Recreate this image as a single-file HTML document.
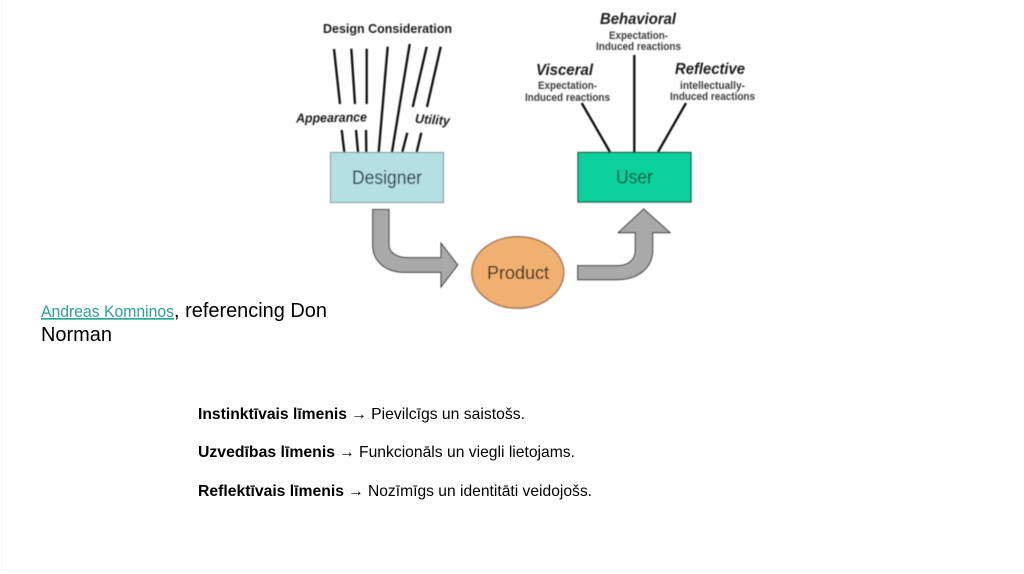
<!DOCTYPE html>
<html lang="lv">
<head>
<meta charset="utf-8">
<title>Designer, Product, User</title>
<style>
html,body{margin:0;padding:0;background:#fff;width:1024px;height:574px;overflow:hidden}
svg{display:block;font-family:"Liberation Sans",sans-serif}
.b{filter:url(#soft)}
.l line{stroke:#111;stroke-width:2.3;stroke-linecap:butt}
.h{font-weight:bold;fill:#1f1f1f}
.i{font-weight:bold;font-style:italic;fill:#1c1c1c}
.s{font-weight:bold;fill:#3c3c3c;font-size:11px}
.t{fill:#000}
</style>
</head>
<body>
<svg width="1024" height="574" viewBox="0 0 1024 574" xmlns="http://www.w3.org/2000/svg">
<defs><filter id="soft" x="-5%" y="-5%" width="110%" height="110%"><feGaussianBlur stdDeviation="0.4"/></filter></defs>
<rect x="0" y="0" width="1024" height="574" fill="#fff"/>
<path d="M1.5 0V570.5H1024" fill="none" stroke="#f6f6f6" stroke-width="1"/>
<g class="b">
<g class="l">
<line x1="334" y1="49" x2="340" y2="104"/>
<line x1="351.3" y1="48.7" x2="355" y2="104"/>
<line x1="366.7" y1="48.7" x2="366.7" y2="104"/>
<line x1="387.7" y1="46.7" x2="378.7" y2="152"/>
<line x1="409.7" y1="44" x2="392" y2="152"/>
<line x1="426.7" y1="46.7" x2="412.7" y2="107"/>
<line x1="440.7" y1="46.7" x2="427" y2="107"/>
<line x1="341.7" y1="130" x2="344.3" y2="152"/>
<line x1="356" y1="130" x2="358" y2="152"/>
<line x1="366" y1="130" x2="366.3" y2="152"/>
<line x1="407.3" y1="132.7" x2="402.3" y2="152"/>
<line x1="421.3" y1="132.7" x2="416.7" y2="152"/>
<line x1="581.7" y1="103" x2="610" y2="152"/>
<line x1="634.3" y1="55" x2="634.3" y2="152"/>
<line x1="686" y1="103" x2="658" y2="152"/>
</g>
<rect x="330.5" y="152.5" width="113" height="50" fill="#b4dfe3" stroke="#7d9a9c" stroke-width="1"/>
<rect x="578" y="152.5" width="113" height="49.5" fill="#0fd19c" stroke="#1f5f4b" stroke-width="1.3"/>
<path d="M372.7 209.5H389V245C389 252 396 257.7 407 257.7H441V243.3L457.7 265L441 287V272.3H405C386 272.3 372.7 262 372.7 245Z" fill="#a9a9a9" stroke="#444" stroke-width="1.1"/>
<path d="M577.7 265.7H618C628 265.7 635.3 260 635.3 250V232.7H618.3L643.7 209L670 232.7H652.7V250C652.7 268 638 279.7 617 279.7H577.7Z" fill="#a9a9a9" stroke="#444" stroke-width="1.1"/>
<ellipse cx="517.8" cy="272.5" rx="46" ry="35.8" fill="#f0b06f" stroke="#a0705a" stroke-width="1.3"/>
<text x="323" y="33" class="h" font-size="13" textLength="129" lengthAdjust="spacingAndGlyphs">Design Consideration</text>
<text x="296" y="122" class="i" font-size="13" textLength="71" lengthAdjust="spacingAndGlyphs" transform="rotate(-1 331 118)">Appearance</text>
<text x="415" y="124" class="i" font-size="13" textLength="35" lengthAdjust="spacingAndGlyphs" transform="rotate(4 432 120)">Utility</text>
<text x="352" y="184" font-size="19" fill="#14303c" textLength="70" lengthAdjust="spacingAndGlyphs">Designer</text>
<text x="616" y="183.5" font-size="19" fill="#10583f" textLength="37" lengthAdjust="spacingAndGlyphs">User</text>
<text x="487" y="279" font-size="18" fill="#2e2018" textLength="62" lengthAdjust="spacingAndGlyphs">Product</text>
<text x="600" y="24" class="i" font-size="15.5" textLength="76" lengthAdjust="spacingAndGlyphs">Behavioral</text>
<text x="609" y="39" class="s" textLength="59" lengthAdjust="spacingAndGlyphs">Expectation-</text>
<text x="596" y="50" class="s" textLength="85" lengthAdjust="spacingAndGlyphs">Induced reactions</text>
<text x="536" y="75" class="i" font-size="15.5" textLength="57" lengthAdjust="spacingAndGlyphs">Visceral</text>
<text x="538" y="89" class="s" textLength="59" lengthAdjust="spacingAndGlyphs">Expectation-</text>
<text x="525" y="101" class="s" textLength="85" lengthAdjust="spacingAndGlyphs">Induced reactions</text>
<text x="675" y="74" class="i" font-size="15.5" textLength="70" lengthAdjust="spacingAndGlyphs">Reflective</text>
<text x="680" y="89" class="s" textLength="65" lengthAdjust="spacingAndGlyphs">intellectually-</text>
<text x="670" y="100" class="s" textLength="85" lengthAdjust="spacingAndGlyphs">Induced reactions</text>
</g>
<text x="41" y="317" font-size="16.5" fill="#2ba198" text-decoration="underline" textLength="133" lengthAdjust="spacingAndGlyphs">Andreas Komninos</text>
<text x="174" y="317" font-size="20" class="t" textLength="153" lengthAdjust="spacingAndGlyphs">, referencing Don</text>
<text x="41" y="341" font-size="20" class="t" textLength="71" lengthAdjust="spacingAndGlyphs">Norman</text>
<text x="198" y="419" font-size="16" font-weight="bold" class="t" textLength="149" lengthAdjust="spacingAndGlyphs">Instinktīvais līmenis</text>
<text x="351" y="419" font-size="16" class="t" textLength="174" lengthAdjust="spacingAndGlyphs">→ Pievilcīgs un saistošs.</text>
<text x="198" y="457" font-size="16" font-weight="bold" class="t" textLength="137" lengthAdjust="spacingAndGlyphs">Uzvedības līmenis</text>
<text x="339" y="457" font-size="16" class="t" textLength="236" lengthAdjust="spacingAndGlyphs">→ Funkcionāls un viegli lietojams.</text>
<text x="198" y="496" font-size="16" font-weight="bold" class="t" textLength="146" lengthAdjust="spacingAndGlyphs">Reflektīvais līmenis</text>
<text x="348" y="496" font-size="16" class="t" textLength="244" lengthAdjust="spacingAndGlyphs">→ Nozīmīgs un identitāti veidojošs.</text>
</svg>
</body>
</html>
